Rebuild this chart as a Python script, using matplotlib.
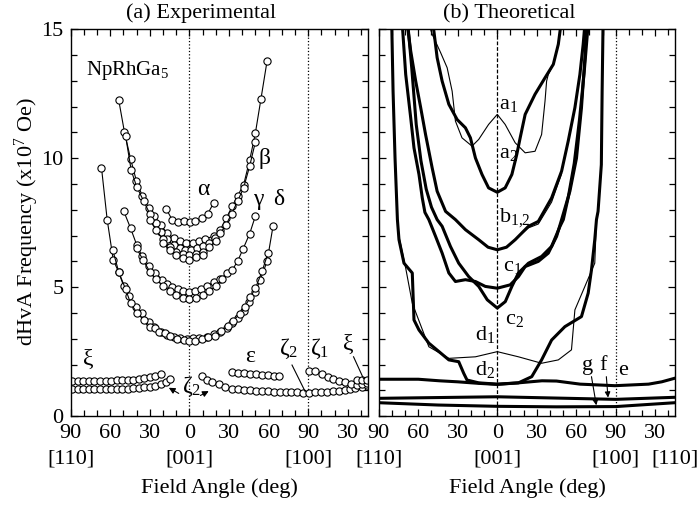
import matplotlib
matplotlib.use("Agg")
import matplotlib.pyplot as plt
from matplotlib.ticker import MultipleLocator
import matplotlib.transforms as mtransforms

plt.rcParams['font.family'] = ['Liberation Serif', 'DejaVu Serif']
plt.rcParams['mathtext.default'] = 'regular'

# ---------------- experimental branches (angle in deg, F in 1e7 Oe) ----------------
# angle axis: -90..0 = [110]->[001], 0..90 = [001]->[100], 90..135 = [100]->[110]
alpha_x = [-17.6, -13.1, -8.8, -4.3, 0.2, 4.5, 9.6, 13.9, 18.4]
alpha_y = [8.03, 7.62, 7.51, 7.55, 7.51, 7.58, 7.68, 7.85, 8.27]

beta1_x = [-53.5, -49.2, -44.6, -40.1, -35.8, -30.8, -26.5, -21.9, -16.9, -11.9, -7, -2.5,
           2.5, 7, 11.5, 18.4, 23.4, 28, 32.3, 36.6, 41.1, 45.6, 49.9, 54.2, 58.8]
beta1_y = [12.24, 11.01, 9.98, 9.11, 8.55, 8.07, 7.75, 7.42, 7.1, 6.9, 6.78, 6.72,
           6.72, 6.78, 6.86, 6.98, 7.23, 7.68, 8.13, 8.55, 8.98, 9.92, 10.96, 12.31, 13.77]
beta2_x = [-48.4, -44.1, -40, -34.6, -30, -25.5, -21.9, -16.9, -12, -7.5, -3, 1.5,
           6, 10.5, 15, 19.5, 23.4, 27.5, 32, 36.6, 41, 45.6, 49.9]
beta2_y = [10.88, 9.53, 8.9, 8.33, 7.85, 7.5, 7.15, 6.85, 6.62, 6.5, 6.45, 6.45,
           6.5, 6.58, 6.7, 6.9, 7.1, 7.4, 7.85, 8.35, 8.85, 9.69, 10.62]
beta3_x = [-30, -25, -20, -15, -10, -5, 0, 5, 10, 15, 20]
beta3_y = [7.6, 7.2, 6.85, 6.55, 6.38, 6.28, 6.25, 6.28, 6.38, 6.55, 6.8]
beta4_x = [-20, -15, -10, -5, 0, 5, 10]
beta4_y = [6.7, 6.45, 6.25, 6.14, 6.05, 6.16, 6.25]

gamma1_x = [-49.7, -44.6, -40, -35.8, -30.8, -25.7, -20.7, -16.9, -13.1, -9, -4.5, 0,
            4.5, 9, 13.4, 18.9, 23.4, 28.5, 32.3, 36.6, 40.6, 45.6, 49.9]
gamma1_y = [7.94, 7.29, 6.65, 6.19, 5.83, 5.55, 5.29, 5.13, 5.0, 4.92, 4.86, 4.83,
            4.86, 4.93, 5.05, 5.22, 5.31, 5.55, 5.65, 6.02, 6.48, 7.07, 7.75]
gamma2_x = [-40, -35, -30, -25, -20, -15, -10, -5, 0, 5, 10, 15, 20, 25]
gamma2_y = [6.5, 6.05, 5.6, 5.3, 5.05, 4.85, 4.7, 4.58, 4.53, 4.57, 4.68, 4.85, 5.05, 5.3]

delta1_x = [-66.6, -62.3, -57.7, -53.5, -49.7, -45.9, -40.8, -35.8, -30.8, -26.5, -21.9,
            -16.9, -11.9, -6.8, -2, 2.5, 7.5, 13.4, 18.4, 23.4, 28.5, 32.3, 36.8, 41.1,
            44.9, 49.9, 53.7, 58.8, 63.3]
delta1_y = [9.63, 7.62, 6.06, 5.57, 5.03, 4.64, 4.25, 3.99, 3.66, 3.45, 3.28,
            3.15, 3.06, 3.02, 3.0, 3.02, 3.04, 3.08, 3.2, 3.28, 3.41, 3.6, 3.8, 4.09,
            4.44, 4.83, 5.29, 6.0, 7.36]
delta2_x = [-58, -53.5, -48.4, -44.6, -39.5, -34.6, -29.5, -25.7, -23.2, -18.2, -14.4,
            -9.3, -4.3, 0, 4.3, 9.3, 14.4, 19, 24, 29, 33, 38, 42, 46, 50, 55, 59.5]
delta2_y = [6.43, 5.58, 4.93, 4.38, 3.99, 3.73, 3.47, 3.41, 3.28, 3.21, 3.11,
            3.0, 2.95, 2.91, 2.93, 2.98, 3.06, 3.12, 3.3, 3.5, 3.7, 3.95, 4.25, 4.6, 4.96,
            5.61, 6.32]

xi1_x = [-88.7, -84.5, -80.3, -76.1, -71.9, -67.7, -63.5, -59.3, -55.1, -50.9, -46.7,
         -42.5, -38.3, -34.1, -29.9, -25.7, -21.9]
xi1_y = [1.38, 1.38, 1.38, 1.38, 1.38, 1.38, 1.38, 1.38, 1.39, 1.39, 1.40,
         1.42, 1.44, 1.47, 1.51, 1.56, 1.63]
xi2_x = [-88.7, -84.5, -80.3, -76.1, -71.9, -67.7, -63.5, -59.3, -55.1, -50.9, -46.7,
         -42.5, -38.3, -34.1, -29.9, -25.7, -21.5, -17.6, -14.4]
xi2_y = [1.06, 1.06, 1.06, 1.06, 1.06, 1.06, 1.06, 1.06, 1.06, 1.07, 1.07,
         1.08, 1.09, 1.11, 1.13, 1.17, 1.23, 1.31, 1.43]

zeta2_x = [9.6, 13.5, 17.1, 22.2, 27.2, 32.3, 36.8, 41.3, 45.8, 50.3, 54.8, 59.3, 63.8,
           68.3, 72.8, 77.3, 81.8, 86.3, 90.5, 95, 99.5, 104, 108.5, 113, 117.5, 121.5,
           125.5, 130.6, 134.4]
zeta2_y = [1.55, 1.40, 1.33, 1.23, 1.14, 1.07, 1.04, 1.02, 1.0, 0.98, 0.97, 0.96, 0.95,
           0.94, 0.93, 0.92, 0.92, 0.91, 0.91, 0.92, 0.93, 0.95, 0.97, 0.99, 1.02, 1.05,
           1.09, 1.14, 1.2]
eps_x = [32.3, 36.8, 41.3, 45.8, 50.3, 54.8, 59.3, 63.8, 67.6]
eps_y = [1.72, 1.69, 1.67, 1.65, 1.63, 1.61, 1.59, 1.57, 1.56]
zeta1_x = [90.2, 95.3, 100.4, 104.6, 108.7, 113, 117.5, 122, 126.9, 130.6, 134.4]
zeta1_y = [1.75, 1.75, 1.63, 1.53, 1.45, 1.38, 1.31, 1.24, 1.22, 1.25, 1.28]
xi3_x = [126.9, 130.6, 134.4]
xi3_y = [1.40, 1.40, 1.40]

exp_branches = [(alpha_x, alpha_y), (beta1_x, beta1_y), (beta2_x, beta2_y),
                (beta3_x, beta3_y), (beta4_x, beta4_y), (gamma1_x, gamma1_y),
                (gamma2_x, gamma2_y), (delta1_x, delta1_y), (delta2_x, delta2_y),
                (xi1_x, xi1_y), (xi2_x, xi2_y), (zeta2_x, zeta2_y), (eps_x, eps_y),
                (zeta1_x, zeta1_y), (xi3_x, xi3_y)]

# ---------------- theoretical branches ----------------
a2_x = [-49, -48.2, -45.7, -41.9, -36.8, -30.5, -24.2, -20.4, -16.6, -11.6, -6.6, 0,
        6.0, 11.1, 14.8, 17.4, 21.2, 28.7, 36.3, 42.6, 46.4, 48.4]
a2_y = [15.2, 14.94, 13.9, 12.99, 12.09, 11.5, 11.18, 10.79, 10.01, 9.37, 8.85, 8.68,
        8.85, 9.37, 10.14, 10.79, 11.7, 12.48, 13.12, 13.64, 14.42, 15.2]
a1_x = [-52, -49.5, -43.1, -38.1, -34.3, -31.8, -26.8, -19.2, -14.1, -6.6, 0, 6, 13.6,
        21.2, 28.7, 33.7, 36.3, 37.5, 38.8, 42.6, 46.4, 48.4]
a1_y = [15.2, 14.81, 14.1, 13.51, 12.6, 11.44, 10.79, 10.47, 10.73, 11.31, 11.7, 11.31,
        10.6, 10.21, 10.27, 10.92, 12.22, 12.99, 13.25, 13.64, 14.42, 15.2]
b_x = [-68.4, -65.8, -62, -58.2, -54.5, -49.5, -45.7, -39.3, -31.8, -24.2, -14.1, -7, 0,
       7, 13.6, 23.7, 31.2, 41.3, 48.9, 53.9, 59, 62.8, 65.3, 66.6]
b_y = [15.2, 14.16, 12.99, 11.96, 10.92, 9.63, 8.72, 7.94, 7.62, 7.23, 6.84, 6.55, 6.45,
       6.55, 6.84, 7.36, 7.55, 8.46, 9.5, 10.66, 11.96, 13.25, 14.42, 15.2]
b2_x = [13.6, 23.7, 31.2, 41.3, 48.9]
b2_y = [6.84, 7.3, 7.45, 8.3, 9.4]
c1_x = [-72.2, -69.6, -65.8, -63.3, -59.5, -57, -55, -52, -46.9, -41.9, -36.8, -31.8,
        -24.2, -16.6, -9.1, 0, 9.8, 16.1, 21.2, 31.2, 38.8, 45.1, 48.9, 55.2, 60.2, 64,
        66.6, 67.8]
c1_y = [15.2, 13.25, 11.57, 10.4, 9.37, 8.46, 7.9, 7.62, 6.97, 6.32, 5.55, 5.22,
        5.29, 5.22, 5.03, 4.96, 5.09, 5.41, 5.8, 6.0, 6.32, 6.97, 7.62, 8.72, 10.0, 11.96,
        13.9, 15.2]
c2_x = [-68, -65, -61.6, -58, -54, -50, -45.7, -41.9, -35.6, -29.3, -21.7, -14.1, -7.6,
        0, 6.1, 11.1, 16.1, 23.7, 33.7, 41.3, 47.7, 50.2, 54, 58.5, 62.5, 66, 69.1]
c2_y = [15.2, 13.5, 11.31, 9.9, 8.8, 8.1, 7.62, 7.36, 6.58, 5.93, 5.41, 5.03, 4.51,
        4.19, 4.44, 5.03, 5.55, 5.93, 6.19, 6.58, 7.36, 7.62, 8.5, 9.8, 11.5, 13.3, 15.2]
d2_x = [-80.2, -79.2, -77.7, -75.9, -74.7, -70.9, -64.6, -63.3, -59.5, -52, -36.8, -29.3,
        -25.5, -23, -14.1, 0, 16.1, 26.2, 33.7, 41.3, 51.4, 64, 69.1, 71.6, 74.1, 75.4,
        76.6, 79.1, 79.7, 80.4]
d2_y = [15.2, 12.6, 10.0, 7.62, 6.84, 5.93, 5.55, 3.73, 3.34, 2.83, 2.18, 2.11,
        1.66, 1.40, 1.29, 1.24, 1.29, 1.53, 2.18, 2.95, 3.47, 3.86, 4.77, 5.67, 6.84, 7.62,
        7.94, 9.75, 12.6, 15.2]
d1_x = [-80.2, -79.2, -77.7, -75.9, -74.7, -69.6, -64.6, -52, -36.8, -16.6, 0, 16.1,
        33.7, 46.4, 56.4, 59, 66.6, 74.1, 75.4, 76.6, 79.1, 79.7, 80.4]
d1_y = [15.2, 12.6, 10.0, 7.62, 6.97, 5.74, 4.38, 2.69, 2.24, 2.3, 2.5, 2.3,
        2.05, 2.18, 2.57, 4.12, 5.03, 5.93, 7.62, 7.94, 9.75, 12.6, 15.2]
e_x = [-90, -60, -44, -30, -14, 0, 16, 34, 45, 63, 89.5, 115, 125, 135]
e_y = [1.43, 1.43, 1.37, 1.33, 1.27, 1.23, 1.29, 1.37, 1.36, 1.24, 1.18, 1.24, 1.33, 1.47]
f_x = [-90, -45, 0, 45, 90, 135]
f_y = [0.69, 0.72, 0.75, 0.7, 0.65, 0.73]
g_x = [-90, -45, 0, 45, 90, 135]
g_y = [0.52, 0.43, 0.38, 0.36, 0.37, 0.52]

thick = [(a2_x, a2_y), (b_x, b_y), (c1_x, c1_y), (c2_x, c2_y), (d2_x, d2_y),
         (e_x, e_y), (f_x, f_y), (g_x, g_y)]
thin = [(a1_x, a1_y), (b2_x, b2_y), (d1_x, d1_y)]

tick_pos = [-90, -60, -30, 0, 30, 60, 90, 120]
tick_lab = ['90', '60', '30', '0', '30', '60', '90', '30']
dir_pos = [-90, 0, 90, 135]
dir_lab = ['[110]', '[001]', '[100]', '[110]']

FS = 16
GF = 17

fig = plt.figure(figsize=(6.99, 5.05), dpi=100)
axL = fig.add_axes([0.101, 0.176, 0.425, 0.766])
axR = fig.add_axes([0.542, 0.176, 0.4235, 0.766])

for ax in (axL, axR):
    ax.set_xlim(-90, 135)
    ax.set_ylim(0, 15)
    ax.set_xticks(tick_pos)
    ax.set_xticklabels(tick_lab)
    ax.xaxis.set_minor_locator(MultipleLocator(10))
    ax.set_yticks([0, 5, 10, 15])
    ax.yaxis.set_minor_locator(MultipleLocator(1))
    ax.tick_params(which='both', direction='in', top=True, right=True,
                   labelsize=FS, width=0.9)
    ax.tick_params(axis='x', which='both', pad=6)
    ax.tick_params(axis='y', which='both', pad=5)
    ax.tick_params(which='major', length=5)
    ax.tick_params(which='minor', length=4)
    for s in ax.spines.values():
        s.set_linewidth(1.0)
    trans = mtransforms.blended_transform_factory(ax.transData, ax.transAxes)
    for p, l in zip(dir_pos, dir_lab):
        if ax is axL and p == 135:
            continue
        ax.text(p, -0.111, l, transform=trans, ha='center', va='center',
                fontsize=FS, clip_on=False)
    ax.axvline(90, color='k', ls=':', lw=0.9)

axL.axvline(0, color='k', ls=':', lw=0.9)
axR.axvline(0, color='k', ls=(0, (3, 1.5)), lw=0.9)
axR.set_yticklabels([])

for bx, by in exp_branches:
    axL.plot(bx, by, '-', color='k', lw=0.8, marker='o', ms=5.2,
             mfc='white', mec='k', mew=0.8)

for cx, cy in thick:
    axR.plot(cx, cy, '-', color='k', lw=2.2)
for cx, cy in thin:
    axR.plot(cx, cy, '-', color='k', lw=0.8)

# labels of left panel
axL.text(-78.6, 13.4, 'NpRhGa$_5$', fontsize=15, va='center', ha='left')
axL.text(10.6, 8.8, 'α', fontsize=GF, ha='center', va='center')
axL.text(56.5, 10.0, 'β', fontsize=GF, ha='center', va='center')
axL.text(52.4, 8.4, 'γ', fontsize=GF, ha='center', va='center')
axL.text(67.5, 8.4, 'δ', fontsize=GF, ha='center', va='center')
axL.text(-77, 2.2, 'ξ', fontsize=GF, ha='center', va='center')
axL.text(46, 2.3, 'ε', fontsize=GF, ha='center', va='center')
axL.text(2, 1.15, 'ζ$_2$', fontsize=GF, ha='center', va='center')
axL.text(75.5, 2.63, 'ζ$_2$', fontsize=GF, ha='center', va='center')
axL.text(98.5, 2.63, 'ζ$_1$', fontsize=GF, ha='center', va='center')
axL.text(120.5, 2.8, 'ξ', fontsize=GF, ha='center', va='center')
axL.plot([77.7, 87.7], [1.98, 0.95], color='k', lw=0.8)
axL.plot([124.3, 131.8], [2.3, 1.46], color='k', lw=0.8)
axL.annotate('', xy=(-15.6, 1.1), xytext=(-8.1, 0.88),
             arrowprops=dict(arrowstyle='-|>', color='k', lw=0.8,
                             mutation_scale=9, shrinkA=0, shrinkB=0))
axL.annotate('', xy=(14.6, 0.97), xytext=(8.3, 0.8),
             arrowprops=dict(arrowstyle='-|>', color='k', lw=0.8,
                             mutation_scale=9, shrinkA=0, shrinkB=0))

# labels of right panel
axR.text(1.5, 12.1, 'a$_1$', fontsize=FS, ha='left', va='center')
axR.text(1.5, 10.2, 'a$_2$', fontsize=FS, ha='left', va='center')
axR.text(1.5, 7.7, 'b$_{1{,}2}$', fontsize=FS, ha='left', va='center')
axR.text(4.5, 5.8, 'c$_1$', fontsize=FS, ha='left', va='center')
axR.text(5.5, 3.73, 'c$_2$', fontsize=FS, ha='left', va='center')
axR.text(-1.5, 3.15, 'd$_1$', fontsize=FS, ha='right', va='center')
axR.text(-1.5, 1.8, 'd$_2$', fontsize=FS, ha='right', va='center')
axR.text(68.5, 1.95, 'g', fontsize=FS, ha='center', va='center')
axR.text(80.4, 1.95, 'f', fontsize=FS, ha='center', va='center')
axR.text(95.5, 1.75, 'e', fontsize=FS, ha='center', va='center')
axR.annotate('', xy=(75.3, 0.42), xytext=(71.6, 1.53),
             arrowprops=dict(arrowstyle='-|>', color='k', lw=0.8,
                             mutation_scale=8, shrinkA=0, shrinkB=0))
axR.annotate('', xy=(84.2, 0.72), xytext=(82.9, 1.53),
             arrowprops=dict(arrowstyle='-|>', color='k', lw=0.8,
                             mutation_scale=8, shrinkA=0, shrinkB=0))

fig.text(201 / 699, 1 - 13.5 / 505, '(a) Experimental', fontsize=FS,
         ha='center', va='center')
fig.text(509.5 / 699, 1 - 13.5 / 505, '(b) Theoretical', fontsize=FS,
         ha='center', va='center')
fig.text(219 / 699, 1 - 488 / 505, 'Field Angle (deg)', fontsize=FS,
         ha='center', va='center')
fig.text(527 / 699, 1 - 488 / 505, 'Field Angle (deg)', fontsize=FS,
         ha='center', va='center')
fig.text(27 / 699, 1 - 222 / 505, 'dHvA Frequency (x10$^7$ Oe)', fontsize=FS,
         ha='center', va='center', rotation=90)

fig.savefig('out.png', dpi=100)
